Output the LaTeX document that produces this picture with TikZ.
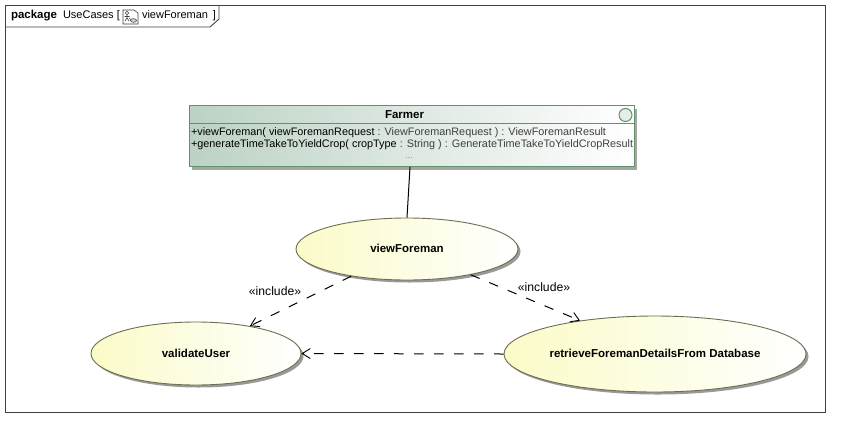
\documentclass[tikz,border=0pt]{standalone}
\usepackage{fontspec}
\setmainfont{Liberation Sans}
\usetikzlibrary{shapes.geometric,shadows,arrows.meta}
\definecolor{framegray}{HTML}{404040}
\definecolor{classedge}{HTML}{5E9468}
\definecolor{classfill}{HTML}{BCD2C4}
\definecolor{ucedge}{HTML}{6E6E50}
\definecolor{ucfill}{HTML}{FBFBC8}
\definecolor{typetext}{HTML}{404040}
\tikzset{
  usecase/.style={ellipse,draw=ucedge,line width=0.9pt,left color=ucfill,right color=white,inner sep=0pt,
    drop shadow={shadow xshift=2.5pt,shadow yshift=-2.5pt,fill=black!40,opacity=1},
    font=\fontsize{11.5}{13}\selectfont\bfseries},
  classbox/.style={rectangle,draw=classedge,line width=1pt,left color=classfill,right color=white,inner sep=0pt,
    drop shadow={shadow xshift=3pt,shadow yshift=-3pt,fill=black!35,opacity=1}},
  txt/.style={inner sep=0pt,outer sep=0pt,text=black},
  oplabel/.style={txt,anchor=base west,font=\fontsize{10.85}{12}\selectfont},
  stereo/.style={txt,font=\fontsize{12.2}{14}\selectfont},
  incl/.style={line width=1pt,dash pattern=on 9.5pt off 10.5pt,-{Straight Barb[length=8pt,width=10pt,line width=0.9pt]}},
  assoc/.style={line width=1pt}
}
\begin{document}
\begin{tikzpicture}[x=1pt,y=-1pt]
\useasboundingbox (0,0) rectangle (850,437);
\fill[white] (0,0) rectangle (850,437);
% package frame
\draw[framegray,line width=0.9pt] (5.5,5.5) rectangle (825.5,412.5);
\draw[framegray,line width=0.9pt] (5.5,27) -- (210,27) -- (219,19) -- (219,5.5);
\node[txt,anchor=base west,font=\fontsize{11.5}{13}\selectfont\bfseries] (pk) at (11,18.5) {package};
\node[txt,anchor=base west,font=\fontsize{11}{13}\selectfont] (uc) at (63,18.5) {UseCases [};
\node[txt,anchor=base west,font=\fontsize{11}{13}\selectfont] (vf) at (142,18.5) {viewForeman \,]};
% diagram icon
\draw[black!75,line width=0.6pt,fill=white] (123,10) -- (134,10) -- (138,13) -- (138,24) -- (123,24) -- cycle;
\draw[black!75,line width=0.6pt] (127,13) circle (1.8);
\draw[black!75,line width=0.6pt] (127,15) -- (127,18) (124.5,16.5) -- (129.5,16.5) (127,18) -- (125,21) (127,18) -- (129,21);
\draw[black!75,line width=0.6pt,fill=black!15] (133.5,20.5) ellipse (3 and 1.8);
\draw[black!75,line width=0.5pt] (129,18) -- (131,19.5);
% Farmer class
\node[classbox,minimum width=445pt,minimum height=61pt] (farmer) at (411.5,136) {};
\draw[classedge,line width=0.8pt] (189,123.5) -- (634,123.5);
\node[txt,font=\fontsize{11.5}{13}\selectfont\bfseries] (fname) at (404.5,114.5) {Farmer};
\draw[classedge,line width=1pt,fill=classfill!40] (625.5,115) circle (6.5);
\node[oplabel] (op1) at (191,135.5) {+viewForeman( viewForemanRequest {\color{typetext}: ViewForemanRequest ) : ViewForemanResult}};
\node[oplabel] (op2) at (191,147.5) {+generateTimeTakeToYieldCrop( cropType {\color{typetext}: String ) : GenerateTimeTakeToYieldCropResult}};
\node[txt,text=black!45,font=\fontsize{9}{10}\selectfont,anchor=base] (dots) at (409,158.5) {...};
% use cases
\node[usecase,minimum width=222pt,minimum height=62pt] (vc) at (407,249) {\raisebox{1pt}{viewForeman}};
\node[usecase,minimum width=210pt,minimum height=63pt] (vu) at (196,353.5) {\raisebox{1pt}{validateUser}};
\node[usecase,minimum width=302pt,minimum height=76pt] (rf) at (655,354) {\raisebox{1pt}{retrieveForemanDetailsFrom Database}};
% connectors
\draw[assoc] ([xshift=-1.5pt]farmer.south) -- (vc.north);
\draw[incl] (vc.206.6) -- (vu.27);
\draw[incl] (vc.-22) -- (rf.156.2);
\draw[incl] (rf.west) -- (vu.east);
% labels
\node[stereo] (l1) at (275,291) {«include»};
\node[stereo] (l2) at (544,287) {«include»};
\end{tikzpicture}
\end{document}
